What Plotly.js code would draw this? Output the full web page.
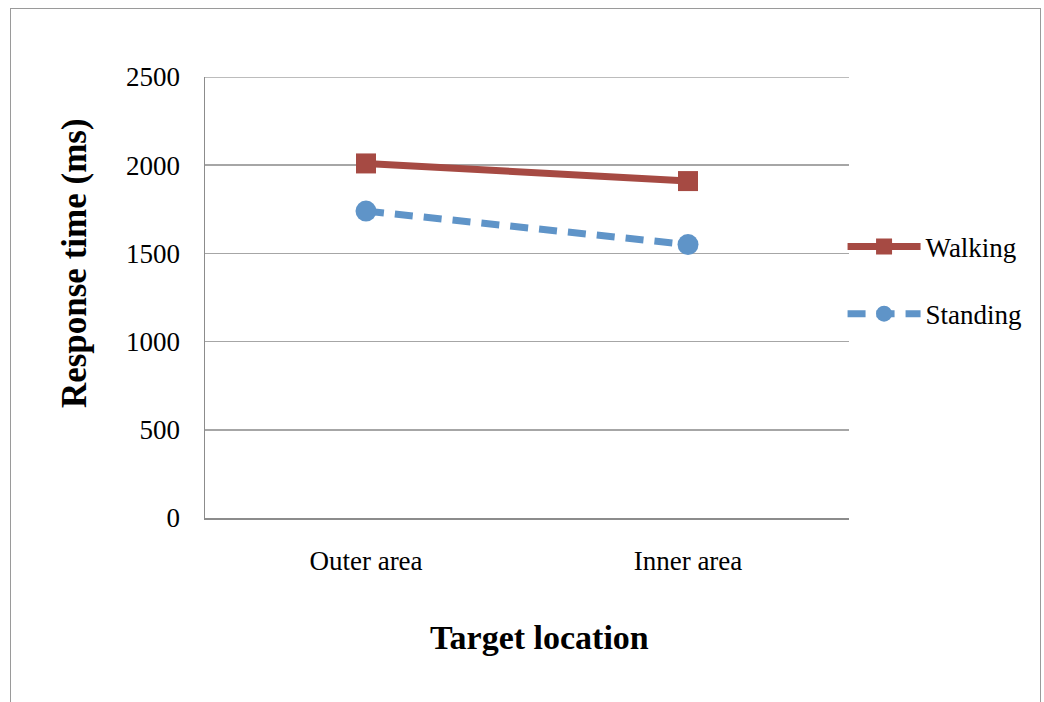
<!DOCTYPE html>
<html>
<head>
<meta charset="utf-8">
<script src="https://cdn.plot.ly/plotly-3.0.1.min.js"></script>
<style>
html,body{margin:0;padding:0;background:#fff;}
#wrap{position:relative;width:1044px;height:702px;overflow:hidden;}
#chart{width:1044px;height:702px;}
#frame{position:absolute;left:10px;top:8px;width:1029px;height:720px;border:1.5px solid #9a9a9a;pointer-events:none;}
</style>
</head>
<body>
<div id="wrap"><div id="chart"></div><div id="frame"></div></div>
<script>
const categories = ["Outer area", "Inner area"];
const walking = [2010, 1910];
const standing = [1740, 1550];
const seriesNames = ["Walking", "Standing"];
const yTickVals = [0, 500, 1000, 1500, 2000, 2500];
const xTitle = "Target location";
const yTitle = "Response time (ms)";

const FONT = "Liberation Serif, Times New Roman, serif";
const yMax = yTickVals[yTickVals.length - 1];

const traces = [
  {
    x: categories, y: walking, name: seriesNames[0], type: "scatter", mode: "lines+markers",
    legendgroup: "a",
    line: {color: "#a64a43", width: 7},
    marker: {symbol: "square", size: 20, color: "#a64a43"}
  },
  {
    x: categories, y: standing, name: seriesNames[1], type: "scatter", mode: "lines+markers",
    legendgroup: "b",
    line: {color: "#5f94c8", width: 7, dash: "18px,11px"},
    marker: {symbol: "circle", size: 21, color: "#5f94c8"}
  }
];

const layout = {
  width: 1044, height: 702,
  margin: {l: 205, r: 195, t: 77, b: 184},
  paper_bgcolor: "#fff", plot_bgcolor: "#fff",
  font: {family: FONT, size: 27, color: "#000"},
  showlegend: true,
  legend: {
    x: 0.99, xanchor: "left", y: 0.67, yanchor: "top",
    font: {family: FONT, size: 27, color: "#000"},
    itemwidth: 73, tracegroupgap: 29, traceorder: "grouped",
    bgcolor: "rgba(0,0,0,0)"
  },
  xaxis: {
    type: "category", range: [-0.5, 1.5],
    showgrid: false, showline: true, linecolor: "#8c8c8c", linewidth: 1.5,
    ticks: "", ticklabelstandoff: 18,
    tickfont: {family: FONT, size: 27}
  },
  yaxis: {
    range: [0, yMax], tickvals: yTickVals, ticktext: yTickVals.map(String),
    showgrid: true, gridcolor: "#a6a6a6", gridwidth: 1.5,
    showline: true, linecolor: "#8c8c8c", linewidth: 1.5,
    zeroline: false, ticks: "", ticklabelstandoff: 18,
    tickfont: {family: FONT, size: 27}
  },
  shapes: [
    {type: "line", xref: "paper", yref: "y", x0: 0, x1: 1, y0: yMax, y1: yMax,
     line: {color: "#a6a6a6", width: 1.5}, layer: "below"}
  ],
  annotations: [
    {text: "<b>" + xTitle + "</b>", xref: "paper", yref: "paper", x: 0.52, y: -0.27,
     xanchor: "center", yanchor: "middle", showarrow: false, font: {family: FONT, size: 34}},
    {text: "<b>" + yTitle + "</b>", xref: "paper", yref: "paper", x: -0.2034, y: 0.578,
     xanchor: "center", yanchor: "middle", textangle: -90, showarrow: false, font: {family: FONT, size: 35}}
  ]
};

Plotly.newPlot("chart", traces, layout, {displayModeBar: false, staticPlot: true});
</script>
</body>
</html>
